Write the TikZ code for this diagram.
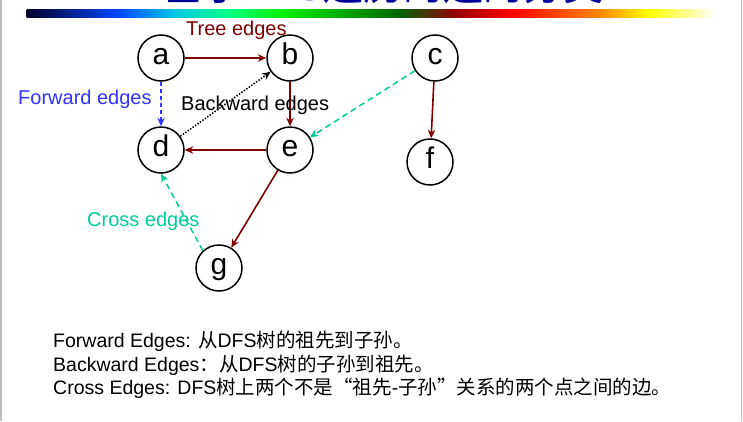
\documentclass[tikz,border=0pt]{standalone}
\usepackage{fontspec}
\setmainfont{Liberation Sans}
\newfontfamily\cjk{Noto Sans CJK SC}
\usetikzlibrary{arrows.meta}

\definecolor{treered}{RGB}{128,0,0}
\definecolor{fwdblue}{RGB}{51,51,255}
\definecolor{crossgreen}{RGB}{0,204,153}
\definecolor{titleblue}{RGB}{0,0,153}
\definecolor{framegray}{RGB}{190,190,190}
% colours of the title bar
\definecolor{barA}{RGB}{0,0,40}
\definecolor{barB}{RGB}{0,70,255}
\definecolor{barC}{RGB}{0,200,230}
\definecolor{barD}{RGB}{0,255,130}
\definecolor{barE}{RGB}{0,240,0}
\definecolor{barF}{RGB}{0,100,0}
\definecolor{barG}{RGB}{150,0,0}
\definecolor{barH}{RGB}{255,0,0}
\definecolor{barI}{RGB}{255,140,0}
\definecolor{barJ}{RGB}{255,255,0}
\definecolor{barK}{RGB}{255,255,255}

\begin{document}
\begin{tikzpicture}[x=1pt, y=-1pt, >={Stealth[length=8.5pt, width=7.5pt]},
    vertex/.style={circle, draw, line width=1.5pt, minimum size=46pt, inner sep=0pt,
      text height=12pt, text depth=0pt, font=\fontsize{30}{30}\selectfont},
    treeedge/.style={->, treered, line width=1.6pt},
    fwdedge/.style={->, fwdblue, line width=1.5pt, dash pattern=on 4pt off 3pt},
    backedge/.style={->, black, line width=1.5pt, dash pattern=on 1.5pt off 1.5pt},
    crossedge/.style={->, crossgreen, line width=1.5pt, dash pattern=on 6pt off 4pt},
    lbl/.style={anchor=base west, inner sep=0pt, font=\fontsize{20}{20}\selectfont},
    note/.style={anchor=base west, inner sep=0pt, font=\fontsize{19.5}{19.5}\selectfont}]

    \useasboundingbox (0,0) rectangle (743,421);
    \clip (0,0) rectangle (743,421);

    % Slide frame
    \draw[framegray, line width=1.5pt] (1,0) -- (1,421);
    \draw[framegray, line width=1.5pt] (741.5,0) -- (741.5,421);

    % Title (cut off at the top)
    \node[anchor=base west, inner sep=0pt, text=titleblue, font=\fontsize{40}{40}\selectfont]
      (title) at (163,0.5) {{\cjk 基于}DFS{\cjk 遍历的边的分类}};

    % Colour bar
    \foreach \xa/\ca/\xb/\cb in {27/barA/118/barB, 118/barB/175/barC, 175/barC/230/barD,
        230/barD/284/barE, 284/barE/400/barF, 400/barF/455/barG, 455/barG/512/barH,
        512/barH/602/barI, 602/barI/649/barJ, 649/barJ/716/barK}
      \shade[left color=\ca, right color=\cb] (\xa-0.3,9) rectangle (\xb,17);

    % Vertices
    \node[vertex] (a) at (161,58) {a};
    \node[vertex] (b) at (290,58) {b};
    \node[vertex] (c) at (435,58) {c};
    \node[vertex] (d) at (161,150) {d};
    \node[vertex] (e) at (290,150) {e};
    \node[vertex] (f) at (430,162) {f};
    \node[vertex] (g) at (219,268) {g};

    % Tree edges
    \draw[treeedge] (a) -- (b);
    \draw[treeedge] (b) -- (e);
    \draw[treeedge] (e) -- (d);
    \draw[treeedge] (e) -- (g);
    \draw[treeedge] (c) -- (f);

    % Forward, backward and cross edges
    \draw[fwdedge] (a) -- (d);
    \draw[backedge] (d) -- (b);
    \draw[crossedge] (c) -- (e);
    \draw[crossedge] (g.133) -- (d.south);

    % Edge labels
    \node[lbl, text=treered] (treelbl) at (186,35) {Tree edges};
    \node[lbl, text=fwdblue] (fwdlbl) at (18,104) {Forward edges};
    \node[lbl] (backlbl) at (181,110) {Backward edges};
    \node[lbl, text=crossgreen] (crosslbl) at (87,226) {Cross edges};

    % Notes
    \node[note] (note1) at (53,347) {Forward Edges: {\cjk 从}DFS{\cjk 树的祖先到子孙。}};
    \node[note] (note2) at (53,371) {Backward Edges{\cjk ：从}DFS{\cjk 树的子孙到祖先。}};
    \node[note] (note3) at (53,394) {Cross Edges: DFS{\cjk 树上两个不是“祖先}-{\cjk 子孙”关系的两个点之间的边。}};

\end{tikzpicture}
\end{document}
